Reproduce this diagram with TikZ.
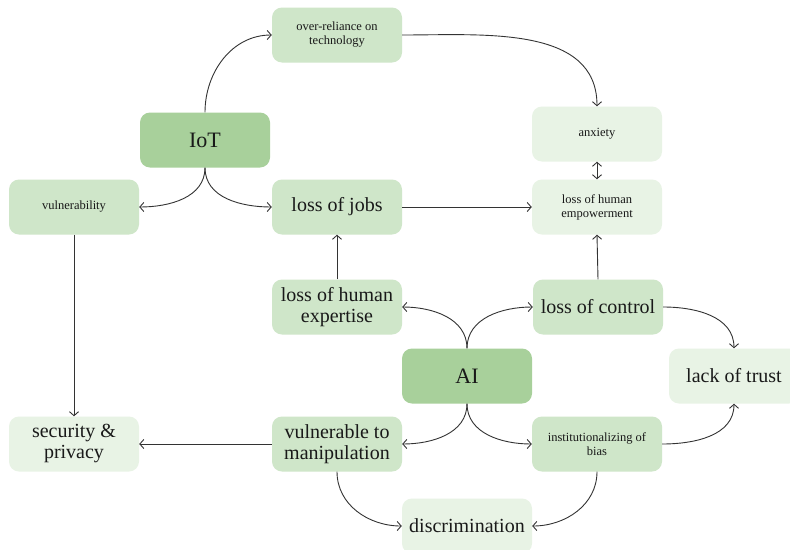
\documentclass[tikz,border=0pt]{standalone}
\usepackage{fontspec}
\setmainfont{Liberation Serif}
\usetikzlibrary{arrows.meta}
\definecolor{gdark}{HTML}{A8D09B}
\definecolor{gmid}{HTML}{CFE6C9}
\definecolor{glight}{HTML}{E8F3E5}
\definecolor{lineclr}{HTML}{333333}
\begin{document}
\begin{tikzpicture}[x=1pt,y=1pt,
  box/.style={rounded corners=10pt, minimum width=130pt, minimum height=55pt,
    align=center, inner sep=2pt, text=black!90},
  dark/.style={box, fill=gdark},
  mid/.style={box, fill=gmid},
  light/.style={box, fill=glight},
  big/.style={font=\fontsize{20}{21}\selectfont},
  huge/.style={font=\fontsize{22}{24}\selectfont},
  small/.style={font=\fontsize{12.5}{14}\selectfont},
  tip/.style={Straight Barb[length=4pt,width=9pt]},
  link/.style={draw=lineclr, line width=0.9pt, -{Straight Barb[length=4pt,width=9pt]}},
]
\fill[white] (0,0) rectangle (790,-549);
\useasboundingbox (0,0) rectangle (790,-549);

% nodes (centres in page units, downward as negative y)
\node[mid, small]   (over)  at (337,-35)  {over-reliance on\\technology};
\node[dark, huge]   (iot)   at (205,-140) {IoT};
\node[mid, small]   (vul)   at (74,-207)  {vulnerability};
\node[mid, big]     (jobs)  at (337,-207) {loss of jobs};
\node[light, small] (anx)   at (597,-134) {anxiety};
\node[light, small] (emp)   at (597,-207) {loss of human\\empowerment};
\node[mid, big]     (exp)   at (337,-307) {loss of human\\expertise};
\node[mid, big]     (ctrl)  at (598,-307) {loss of control};
\node[dark, huge]   (ai)    at (467,-376) {AI};
\node[light, big]   (trust) at (734,-376) {lack of trust};
\node[light, big]   (sec)   at (74,-444)  {security \&\\privacy};
\node[mid, big]     (manip) at (337,-444) {vulnerable to\\manipulation};
\node[mid, small]   (inst)  at (597,-444) {institutionalizing of\\bias};
\node[light, big]   (disc)  at (467,-526) {discrimination};

% connectors
\draw[link] (iot.north) to[out=90,in=180] (over.west);
\draw[link] (over.east) to[out=0,in=90] (anx.north);
\draw[link] (iot.south) to[out=-90,in=0] (vul.east);
\draw[link] (iot.south) to[out=-90,in=180] (jobs.west);
\draw[link] (vul.south) -- (sec.north);
\draw[link] (jobs.east) -- (emp.west);
\draw[link, {Straight Barb[length=4pt,width=9pt]}-{Straight Barb[length=4pt,width=9pt]}] (anx.south) -- (emp.north);
\draw[link] (ctrl.north) -- (emp.south);
\draw[link] (exp.north) -- (jobs.south);
\draw[link] (ai.north) to[out=90,in=0] (exp.east);
\draw[link] (ai.north) to[out=90,in=180] (ctrl.west);
\draw[link] (ctrl.east) to[out=0,in=90] (trust.north);
\draw[link] (ai.south) to[out=-90,in=0] (manip.east);
\draw[link] (ai.south) to[out=-90,in=180] (inst.west);
\draw[link] (inst.east) to[out=0,in=-90] (trust.south);
\draw[link] (manip.west) -- (sec.east);
\draw[link] (manip.south) to[out=-90,in=180] (disc.west);
\draw[link] (inst.south) to[out=-90,in=0] (disc.east);
\end{tikzpicture}
\end{document}
